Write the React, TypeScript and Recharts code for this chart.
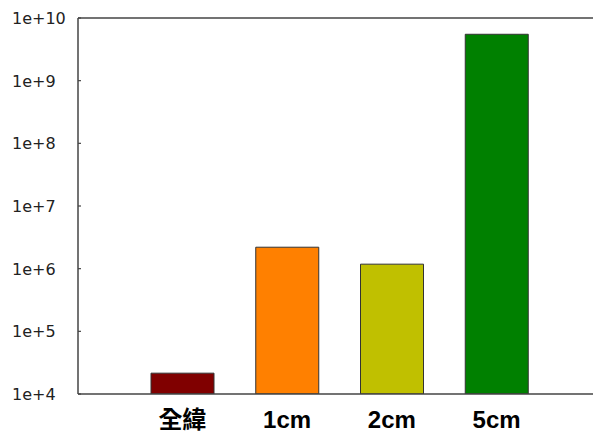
import React from "react";
import { BarChart, Bar, XAxis, YAxis, Cell, ReferenceLine } from "recharts";

const categories = ["全緯", "1cm", "2cm", "5cm"];
const values = [2.15e4, 2.2e6, 1.18e6, 5.5e9];
const colors = ["#800000", "#FF8000", "#C0C000", "#008000"];
const yTicks = [1e4, 1e5, 1e6, 1e7, 1e8, 1e9, 1e10];

const data = categories.map((name, i) => ({ name, value: values[i] }));

const fmt = (v: number) => "1e+" + Math.round(Math.log10(v));

const YTick = (props: any) => {
  const { x, y, payload } = props;
  return (
    <g>
      <text x={x - 66} y={y} dy={6} textAnchor="start" fontFamily="DejaVu Sans" fontSize={16} fill="#222">
        {fmt(payload.value)}
      </text>
      <line x1={x} x2={x + 3} y1={y} y2={y} stroke="#444" strokeWidth={1.2} />
    </g>
  );
};

const XTick = (props: any) => {
  const { x, y, payload } = props;
  return (
    <text
      x={x}
      y={y + 34}
      textAnchor="middle"
      fontFamily="'Liberation Sans', 'Noto Sans CJK TC', sans-serif"
      fontWeight="bold"
      fontSize={24}
      fill="#000"
    >
      {payload.value}
    </text>
  );
};

export default function App() {
  return (
    <div style={{ position: "absolute", left: 0, top: 0, background: "#fff" }}>
      <BarChart
        width={593}
        height={434}
        data={data}
        margin={{ top: 18, right: 0, left: 0, bottom: 0 }}
        barSize={63}
      >
        <XAxis
          dataKey="name"
          height={40}
          tickLine={false}
          tickSize={0}
          tickMargin={0}
          axisLine={{ stroke: "#444", strokeWidth: 1.5 }}
          padding={{ left: 52, right: 44 }}
          tick={<XTick />}
          interval={0}
        />
        <YAxis
          width={78}
          scale="log"
          domain={[1e4, 1e10]}
          ticks={yTicks}
          allowDataOverflow
          tickLine={false}
          tickSize={0}
          tickMargin={0}
          axisLine={{ stroke: "#444", strokeWidth: 1.5 }}
          tick={<YTick />}
          interval={0}
        />
        <ReferenceLine y={1e10} stroke="#444" strokeWidth={1.5} />
        <Bar dataKey="value" isAnimationActive={false} stroke="#333" strokeWidth={1}>
          {data.map((d, i) => (
            <Cell key={d.name} fill={colors[i]} />
          ))}
        </Bar>
      </BarChart>
    </div>
  );
}
